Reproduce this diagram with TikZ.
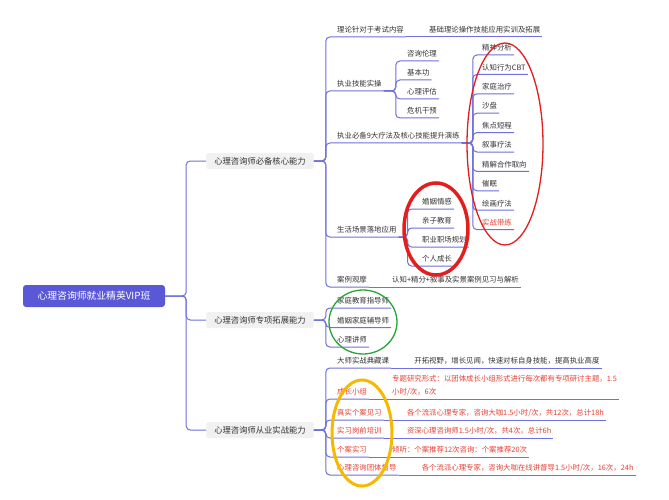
\documentclass[tikz,border=0pt]{standalone}
\usepackage{fontspec}
\setmainfont{Noto Sans CJK SC}
\usetikzlibrary{positioning}
\definecolor{rootfill}{RGB}{90,88,214}
\definecolor{linkblue}{RGB}{112,112,222}
\definecolor{boxgray}{RGB}{241,241,241}
\definecolor{textgray}{RGB}{51,51,51}
\definecolor{hotred}{RGB}{232,64,52}
\definecolor{ovalred}{RGB}{228,30,30}
\definecolor{ovalgreen}{RGB}{40,165,55}
\definecolor{ovalyellow}{RGB}{247,184,0}
\tikzstyle{rootbox} = [rectangle, rounded corners=3pt, fill=rootfill, text=white,
                       minimum width=142pt, minimum height=22pt,
                       font=\fontsize{9.8}{12}\selectfont]
\tikzstyle{mainbox} = [rectangle, rounded corners=2pt, fill=boxgray, text=textgray,
                       minimum height=16pt, inner xsep=8pt,
                       font=\fontsize{8.3}{10}\selectfont]
\tikzstyle{leaf}    = [inner xsep=2pt, inner ysep=3pt, text depth=1pt, text=textgray,
                       anchor=south west, font=\fontsize{7.4}{9}\selectfont]
\tikzstyle{hot}     = [leaf, text=hotred]
\tikzstyle{link}    = [draw=linkblue, line width=1pt, rounded corners=4pt]
\tikzstyle{oval}    = [line width=1.3pt]

\begin{document}
\begin{tikzpicture}[x=1pt, y=-1pt]
  \fill[white] (0,0) rectangle (669,500);
  \useasboundingbox (0,0) rectangle (669,500);

  \node (root) [rootbox] at (94,296) {心理咨询师就业精英VIP班};
  \node (a) [mainbox] at (260,161) {心理咨询师必备核心能力};
  \node (b) [mainbox] at (260,320) {心理咨询师专项拓展能力};
  \node (c) [mainbox] at (260,430) {心理咨询师从业实战能力};

  % core skills
  \node (a1) [leaf] at (335,37)  {理论针对于考试内容};
  \node (a1d) [leaf, right=21pt of a1.south east, anchor=south west] {基础理论操作技能应用实训及拓展};
  \node (a2) [leaf] at (335,91)  {执业技能实操};
  \node (a3) [leaf] at (335,143) {执业必备9大疗法及核心技能提升演练};
  \node (a4) [leaf] at (335,237) {生活场景落地应用};
  \node (a5) [leaf] at (335,287) {案例观摩};
  \node (a5d) [leaf, right=21pt of a5.south east, anchor=south west] {认知+精分+叙事及实景案例见习与解析};

  \node (k1) [leaf] at (405,61) {咨询伦理};
  \node (k2) [leaf, below=19pt of k1.south west, anchor=south west] {基本功};
  \node (k3) [leaf, below=19pt of k2.south west, anchor=south west] {心理评估};
  \node (k4) [leaf, below=19pt of k3.south west, anchor=south west] {危机干预};

  \node (t1) [leaf] at (480,55) {精神分析};
  \node (t2) [leaf, below=19.4pt of t1.south west, anchor=south west] {认知行为CBT};
  \node (t3) [leaf, below=19.4pt of t2.south west, anchor=south west] {家庭治疗};
  \node (t4) [leaf, below=19.4pt of t3.south west, anchor=south west] {沙盘};
  \node (t5) [leaf, below=19.4pt of t4.south west, anchor=south west] {焦点短程};
  \node (t6) [leaf, below=19.4pt of t5.south west, anchor=south west] {叙事疗法};
  \node (t7) [leaf, below=19.4pt of t6.south west, anchor=south west] {精解合作取向};
  \node (t8) [leaf, below=19.4pt of t7.south west, anchor=south west] {催眠};
  \node (t9) [leaf, below=19.4pt of t8.south west, anchor=south west] {绘画疗法};
  \node (t10) [hot, below=19.4pt of t9.south west, anchor=south west] {实战带练};

  \node (s1) [leaf] at (420,209) {婚姻情感};
  \node (s2) [leaf, below=19pt of s1.south west, anchor=south west] {亲子教育};
  \node (s3) [leaf, below=19pt of s2.south west, anchor=south west] {职业职场规划};
  \node (s4) [leaf, below=19pt of s3.south west, anchor=south west] {个人成长};

  % extension skills
  \node (b1) [leaf] at (335,308) {家庭教育指导师};
  \node (b2) [leaf, below=19.5pt of b1.south west, anchor=south west] {婚姻家庭辅导师};
  \node (b3) [leaf, below=19.5pt of b2.south west, anchor=south west] {心理讲师};

  % practice skills
  \node (c1) [leaf] at (335,368) {大师实战典藏课};
  \node (c1d) [leaf, right=21pt of c1.south east, anchor=south west] {开拓视野，增长见闻，快速对标自身技能，提高执业高度};
  \node (c2) [hot] at (335,399) {成长小组};
  \node (c2d) [hot, right=21pt of c2.south east, anchor=south west, align=left,
               font=\fontsize{7.4}{13}\selectfont]
              {专题研究形式：以团体成长小组形式进行每次都有专项研讨主题，1.5\\小时/次，6次};
  \node (c3) [hot] at (335,420) {真实个案见习};
  \node (c3d) [hot, right=21pt of c3.south east, anchor=south west] {各个流派心理专家，咨询大咖1.5小时/次，共12次，总计18h};
  \node (c4) [hot] at (335,438) {实习岗前培训};
  \node (c4d) [hot, right=21pt of c4.south east, anchor=south west] {资深心理咨询师1.5小时/次，共4次，总计6h};
  \node (c5) [hot] at (335,457) {个案实习};
  \node (c5d) [hot, right=21pt of c5.south east, anchor=south west] {倾听：个案推荐12次咨询：个案推荐20次};
  \node (c6) [hot] at (335,475) {心理咨询团体督导};
  \node (c6d) [hot, right=21pt of c6.south east, anchor=south west] {各个流派心理专家，咨询大咖在线讲督导1.5小时/次，16次，24h};

  % Connectors
  \draw [link] (root.east) -- ++(21,0) |- (a.west);
  \draw [link] (root.east) -- ++(21,0) |- (b.west);
  \draw [link] (root.east) -- ++(21,0) |- (c.west);

  \draw [link] (a.east) -- ++(12,0) |- (a1.south east);
  \draw [link] (a.east) -- ++(12,0) |- (a2.south east);
  \draw [link] (a.east) -- ++(12,0) |- (a3.south east);
  \draw [link] (a.east) -- ++(12,0) |- (a4.south east);
  \draw [link] (a.east) -- ++(12,0) |- (a5.south east);
  \draw [link] (a1.south east) -- (a1d.south east);
  \draw [link] (a5.south east) -- (a5d.south east);

  \draw [link] (a2.south east) -- ++(12,0) |- (k1.south east);
  \draw [link] (a2.south east) -- ++(12,0) |- (k2.south east);
  \draw [link] (a2.south east) -- ++(12,0) |- (k3.south east);
  \draw [link] (a2.south east) -- ++(12,0) |- (k4.south east);

  \draw [link] (a3.south east) -- ++(11,0) |- (t1.south east);
  \draw [link] (a3.south east) -- ++(11,0) |- (t2.south east);
  \draw [link] (a3.south east) -- ++(11,0) |- (t3.south east);
  \draw [link] (a3.south east) -- ++(11,0) |- (t4.south east);
  \draw [link] (a3.south east) -- ++(11,0) |- (t5.south east);
  \draw [link] (a3.south east) -- ++(11,0) |- (t6.south east);
  \draw [link] (a3.south east) -- ++(11,0) |- (t7.south east);
  \draw [link] (a3.south east) -- ++(11,0) |- (t8.south east);
  \draw [link] (a3.south east) -- ++(11,0) |- (t9.south east);
  \draw [link] (a3.south east) -- ++(11,0) |- (t10.south east);

  \draw [link] (a4.south east) -- ++(9,0) |- (s1.south east);
  \draw [link] (a4.south east) -- ++(9,0) |- (s2.south east);
  \draw [link] (a4.south east) -- ++(9,0) |- (s3.south east);
  \draw [link] (a4.south east) -- ++(9,0) |- (s4.south east);

  \draw [link] (b.east) -- ++(12,0) |- (b1.south east);
  \draw [link] (b.east) -- ++(12,0) |- (b2.south east);
  \draw [link] (b.east) -- ++(12,0) |- (b3.south east);

  \draw [link] (c.east) -- ++(12,0) |- (c1.south east);
  \draw [link] (c.east) -- ++(12,0) |- (c2.south east);
  \draw [link] (c.east) -- ++(12,0) |- (c3.south east);
  \draw [link] (c.east) -- ++(12,0) |- (c4.south east);
  \draw [link] (c.east) -- ++(12,0) |- (c5.south east);
  \draw [link] (c.east) -- ++(12,0) |- (c6.south east);
  \draw [link] (c1.south east) -- (c1d.south east);
  \draw [link] (c2.south east) -- (c2d.south east);
  \draw [link] (c3.south east) -- (c3d.south east);
  \draw [link] (c4.south east) -- (c4d.south east);
  \draw [link] (c5.south east) -- (c5d.south east);
  \draw [link] (c6.south east) -- (c6d.south east);

  % Highlight rings
  \draw [oval, ovalred] (505,144) ellipse [x radius=38, y radius=101];
  \draw [oval, ovalred, line width=3.5pt] (436,229) ellipse [x radius=32, y radius=46];
  \draw [oval, ovalgreen] (363,322) ellipse [x radius=34, y radius=32];
  \draw [oval, ovalyellow, line width=3pt] (362,433) ellipse [x radius=30, y radius=53];
\end{tikzpicture}
\end{document}
